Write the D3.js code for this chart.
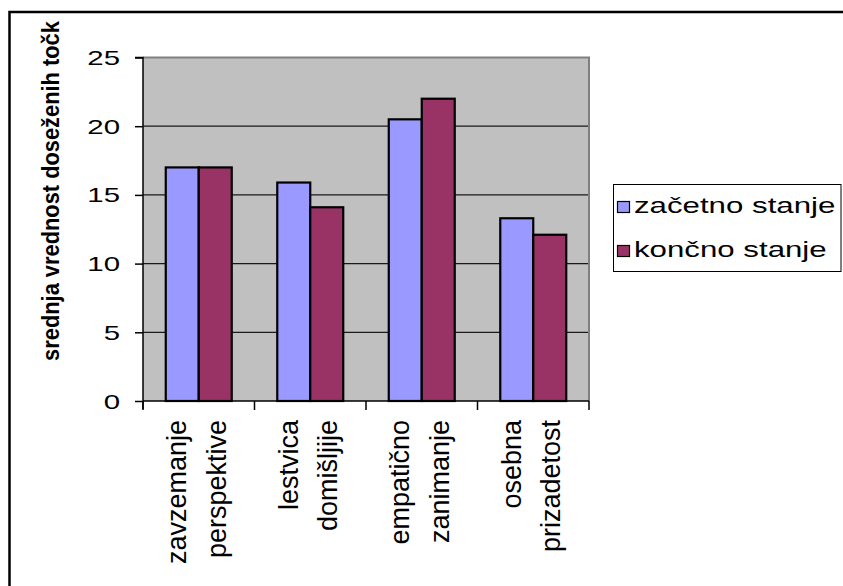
<!DOCTYPE html>
<html><head><meta charset="utf-8">
<script src="https://cdn.jsdelivr.net/npm/d3@7"></script>
<style>html,body{margin:0;padding:0;background:#fff;overflow:hidden}</style>
</head><body>
<svg id="c" width="843" height="586"></svg>
<script>
const categories = [["zavzemanje","perspektive"],["lestvica","domišljije"],["empatično","zanimanje"],["osebna","prizadetost"]];
const seriesNames = ["začetno stanje","končno stanje"];
const zacetno = [17.0, 15.9, 20.5, 13.3];
const koncno = [17.0, 14.1, 22.0, 12.1];
const yTicks = [0,5,10,15,20,25];
const yTitle = "srednja vrednost doseženih točk";
const colors = ["#9999FF","#993366"];

const svg = d3.select("#c");
const font = "'Liberation Sans', Arial, sans-serif";
const plot = {l:143, r:589, t:57.5, b:401};

const x = d3.scaleBand().domain(d3.range(categories.length)).range([plot.l, plot.r]);
const xs = d3.scaleBand().domain([0,1]).range([0, x.bandwidth()]).paddingOuter(0.69);
const y = d3.scaleLinear().domain([0,25]).range([plot.b, plot.t]);

// outer border (left and top edges visible)
svg.append("path").attr("d","M9.5,600V12H860")
  .attr("fill","none").attr("stroke","#000").attr("stroke-width",2.5);

// plot area
svg.append("rect").attr("x",plot.l).attr("y",plot.t).attr("width",plot.r-plot.l).attr("height",plot.b-plot.t)
  .attr("fill","#C0C0C0");

// gridlines
svg.append("g").selectAll("line").data(yTicks.filter(v=>v>0 && v<25)).join("line")
  .attr("x1",plot.l).attr("x2",plot.r).attr("y1",d=>y(d)).attr("y2",d=>y(d))
  .attr("stroke","#1a1a1a").attr("stroke-width",1.2);

// plot border (top/right gray)
svg.append("path").attr("d",`M${plot.l},${plot.t}H${plot.r}V${plot.b}`)
  .attr("fill","none").attr("stroke","#808080").attr("stroke-width",2);

// bars
const series = [zacetno, koncno];
series.forEach((vals, si) => {
  svg.append("g").selectAll("rect").data(vals).join("rect")
    .attr("x",(d,i)=>x(i)+xs(si)).attr("width",xs.bandwidth())
    .attr("y",d=>y(d)).attr("height",d=>y(0)-y(d))
    .attr("fill",colors[si]).attr("stroke","#000").attr("stroke-width",2.2);
});

// axes
const yAxis = d3.axisLeft(y).tickValues(yTicks).tickSize(8).tickFormat("");
const gy = svg.append("g").attr("transform",`translate(${plot.l},0)`).call(yAxis);
gy.select(".domain").attr("stroke","#000").attr("stroke-width",1.5).attr("d",`M-8,${plot.t}H0V${plot.b+8}`);
gy.selectAll(".tick line").attr("stroke","#000").attr("stroke-width",1.5);

svg.append("g").selectAll("text").data(yTicks).join("text")
  .attr("transform",d=>`translate(120,${y(d)}) scale(1.4,1)`)
  .attr("text-anchor","end").attr("dy","0.36em")
  .attr("font-family",font).attr("font-size",21).attr("fill","#000").text(d=>d);

const xBounds = d3.range(categories.length+1).map(i => i<categories.length ? x(i) : plot.r);
svg.append("line").attr("x1",plot.l).attr("x2",plot.r).attr("y1",plot.b).attr("y2",plot.b)
  .attr("stroke","#000").attr("stroke-width",1.5);
svg.append("g").selectAll("line").data(xBounds).join("line")
  .attr("x1",d=>d).attr("x2",d=>d).attr("y1",plot.b).attr("y2",plot.b+9)
  .attr("stroke","#000").attr("stroke-width",1.5);

// x labels
const lg = svg.append("g");
categories.forEach((lines, i) => {
  const cx = x(i) + x.bandwidth()/2;
  lines.forEach((t, li) => {
    lg.append("text")
      .attr("transform",`translate(${cx + (li===0 ? -12.5 : 27)},420) rotate(-90)`)
      .attr("text-anchor","end").attr("font-family",font).attr("font-size",27).attr("fill","#000").text(t);
  });
});

// y title
svg.append("text").attr("transform",`translate(59,191) rotate(-90) scale(0.95,1)`)
  .attr("text-anchor","middle").attr("font-family",font).attr("font-weight","bold")
  .attr("font-size",23).attr("fill","#000").text(yTitle);

// legend
const leg = svg.append("g");
leg.append("rect").attr("x",613.5).attr("y",184.5).attr("width",227.5).attr("height",87)
  .attr("fill","#fff").attr("stroke","#000").attr("stroke-width",1);
seriesNames.forEach((n, i) => {
  const base = 213 + i*44;
  leg.append("rect").attr("x",617.5).attr("y",base-11.5).attr("width",12).attr("height",11)
    .attr("fill",colors[i]).attr("stroke","#000").attr("stroke-width",1.2);
  leg.append("text").attr("transform",`translate(634,${base}) scale(1.42,1)`)
    .attr("font-family",font).attr("font-size",22).attr("fill","#000").text(n);
});
</script>
</body></html>
